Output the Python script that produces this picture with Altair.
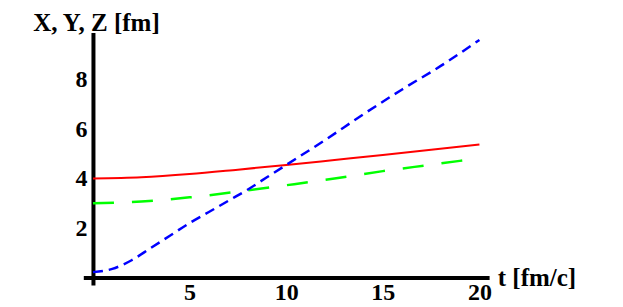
import altair as alt
import pandas as pd

# Data
t_red = [0, 2.5, 5, 7.5, 10, 12.5, 15, 17.5, 20]
x_red = [4.0, 4.05, 4.18, 4.36, 4.55, 4.75, 4.95, 5.16, 5.38]

t_green = [0, 2.5, 5, 7.5, 10, 12.5, 15, 17.5, 20]
y_green = [3.0, 3.07, 3.24, 3.47, 3.73, 4.0, 4.3, 4.56, 4.82]

t_blue = [0, 1, 2, 3, 4, 5, 6, 7, 8, 9, 10, 12, 14, 16, 18, 20]
z_blue = [0.22, 0.35, 0.7, 1.2, 1.7, 2.2, 2.65, 3.1, 3.55, 4.05, 4.55, 5.55, 6.6, 7.6, 8.55, 9.6]

x_ticks = [5, 10, 15, 20]
y_ticks = [2, 4, 6, 8]

df_red = pd.DataFrame({"t": t_red, "v": x_red})
df_green = pd.DataFrame({"t": t_green, "v": y_green})
df_blue = pd.DataFrame({"t": t_blue, "v": z_blue})

FONT = "Times New Roman, Liberation Serif, Times, serif"

xs = alt.Scale(domain=[-0.5, 20.5], nice=False, zero=False)
ys = alt.Scale(domain=[-0.3, 9.9], nice=False, zero=False)

x_axis = alt.Axis(
    values=x_ticks, grid=False, ticks=False, domainWidth=4, domainColor="black",
    offset=-7.4, labelFont=FONT, labelFontWeight="bold", labelFontSize=24,
    labelColor="black", labelPadding=3, labelFlush=False,
    title="t [fm/c]", titleFont=FONT, titleFontWeight="bold", titleFontSize=25,
    titleColor="black", titleAngle=0, titleAlign="left", titleBaseline="middle",
    titleX=414, titleY=0, titleAnchor="start",
)
y_axis = alt.Axis(
    values=y_ticks, grid=False, ticks=False, domainWidth=4, domainColor="black",
    offset=-9.66, labelFont=FONT, labelFontWeight="bold", labelFontSize=24,
    labelColor="black", labelPadding=6, labelFlush=False,
    title="X, Y, Z [fm]", titleFont=FONT, titleFontWeight="bold", titleFontSize=25,
    titleColor="black", titleAngle=0, titleAlign="center", titleBaseline="middle",
    titleX=3, titleY=-10,
)

base_x = alt.X("t:Q", scale=xs, axis=x_axis)
base_y = alt.Y("v:Q", scale=ys, axis=y_axis)

red = alt.Chart(df_red).mark_line(color="#ff0000", strokeWidth=2, interpolate="monotone").encode(x=base_x, y=base_y)
green = alt.Chart(df_green).mark_line(color="#00ff00", strokeWidth=2.5, strokeDash=[21, 18], interpolate="monotone").encode(x="t:Q", y="v:Q")
blue = alt.Chart(df_blue).mark_line(color="#0000ff", strokeWidth=2.5, strokeDash=[10, 6], interpolate="monotone").encode(x="t:Q", y="v:Q")

chart = alt.layer(red, green, blue).properties(
    width=405.8, height=252.5,
    autosize=alt.AutoSizeParams(type="none"),
    padding={"left": 75.3, "top": 24.5, "right": 120, "bottom": 20},
).configure_view(stroke=None)

chart.save("out.html", embed_options={"renderer": "svg", "actions": False})
